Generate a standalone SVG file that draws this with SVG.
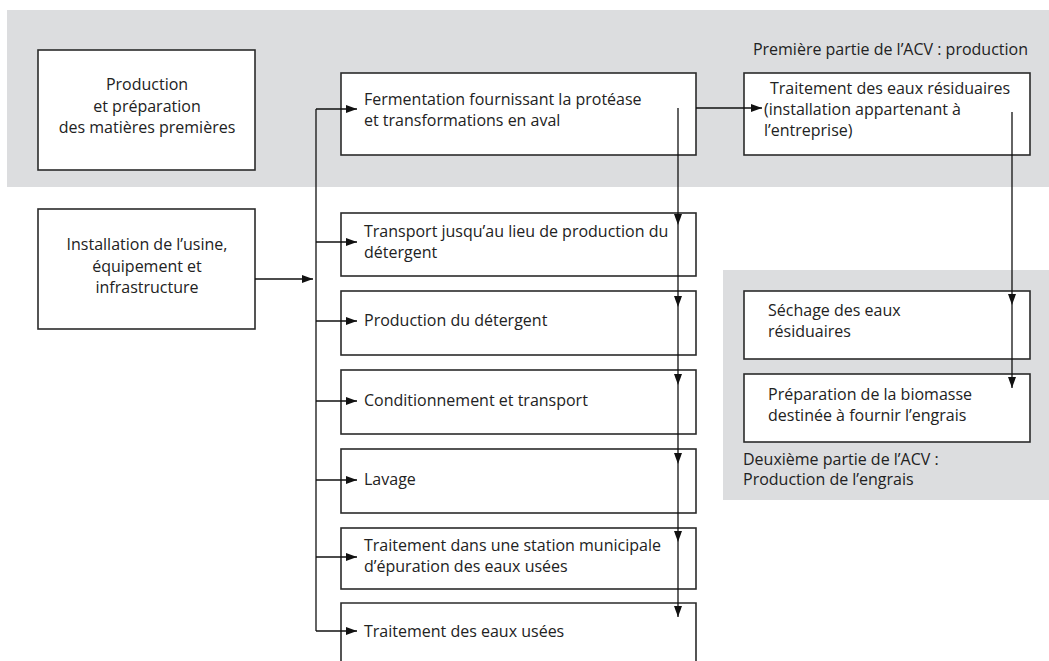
<svg xmlns="http://www.w3.org/2000/svg" width="1049" height="661" viewBox="0 0 1049 661">
  <style>
    .zone { fill: #dcdddf; }
    .box { fill: #ffffff; stroke: #2b2b2b; stroke-width: 1.6; }
    .lbl { font-family: "Open Sans", "Liberation Sans", sans-serif; font-size: 16px; fill: #222; }
    .mid { text-anchor: middle; }
    .wire { stroke: #111; stroke-width: 1.3; fill: none; }
    .arr { marker-end: url(#head); }
  </style>
  <defs>
    <marker id="head" markerUnits="userSpaceOnUse" markerWidth="11" markerHeight="8" refX="11" refY="4" orient="auto">
      <path d="M0,0 L11,4 L0,8 z" fill="#111"/>
    </marker>
  </defs>

  <!-- background zones -->
  <rect class="zone" x="7" y="10" width="1042" height="177"/>
  <rect class="zone" x="723" y="270" width="326" height="230"/>

  <text class="lbl" x="1028" y="55" text-anchor="end">Première partie de l’ACV : production</text>
  <text class="lbl" x="743" y="465">Deuxième partie de l’ACV :</text>
  <text class="lbl" x="743" y="485">Production de l’engrais</text>

  <!-- nodes -->
  <g id="matieres">
    <rect class="box" x="38" y="50" width="217" height="120"/>
    <text class="lbl mid" x="147" y="90">Production</text>
    <text class="lbl mid" x="147" y="112">et préparation</text>
    <text class="lbl mid" x="147" y="133">des matières premières</text>
  </g>
  <g id="usine">
    <rect class="box" x="38" y="209" width="217" height="120"/>
    <text class="lbl mid" x="147" y="250">Installation de l’usine,</text>
    <text class="lbl mid" x="147" y="272">équipement et</text>
    <text class="lbl mid" x="147" y="293">infrastructure</text>
  </g>
  <g id="fermentation">
    <rect class="box" x="341" y="73" width="355" height="82"/>
    <text class="lbl" x="364" y="105">Fermentation fournissant la protéase</text>
    <text class="lbl" x="364" y="126">et transformations en aval</text>
  </g>
  <g id="transport">
    <rect class="box" x="341" y="213" width="355" height="63"/>
    <text class="lbl" x="364" y="237">Transport jusqu’au lieu de production du</text>
    <text class="lbl" x="364" y="258">détergent</text>
  </g>
  <g id="production-detergent">
    <rect class="box" x="341" y="291" width="355" height="64"/>
    <text class="lbl" x="364" y="326">Production du détergent</text>
  </g>
  <g id="conditionnement">
    <rect class="box" x="341" y="370" width="355" height="64"/>
    <text class="lbl" x="364" y="406">Conditionnement et transport</text>
  </g>
  <g id="lavage">
    <rect class="box" x="341" y="449" width="355" height="64"/>
    <text class="lbl" x="364" y="485">Lavage</text>
  </g>
  <g id="station-municipale">
    <rect class="box" x="341" y="528" width="355" height="61"/>
    <text class="lbl" x="364" y="551">Traitement dans une station municipale</text>
    <text class="lbl" x="364" y="572">d’épuration des eaux usées</text>
  </g>
  <g id="eaux-usees">
    <path class="box" d="M341,664 V603 H696 V664"/>
    <text class="lbl" x="364" y="637">Traitement des eaux usées</text>
  </g>
  <g id="eaux-residuaires">
    <rect class="box" x="744" y="73" width="286" height="82"/>
    <text class="lbl" x="770" y="94">Traitement des eaux résiduaires</text>
    <text class="lbl" x="764" y="115">(installation appartenant à</text>
    <text class="lbl" x="764" y="136">l’entreprise)</text>
  </g>
  <g id="sechage">
    <rect class="box" x="744" y="291" width="286" height="68"/>
    <text class="lbl" x="768" y="316">Séchage des eaux</text>
    <text class="lbl" x="768" y="337">résiduaires</text>
  </g>
  <g id="biomasse">
    <rect class="box" x="744" y="374" width="286" height="68"/>
    <text class="lbl" x="768" y="400">Préparation de la biomasse</text>
    <text class="lbl" x="768" y="421">destinée à fournir l’engrais</text>
  </g>

  <!-- connectors -->
  <g id="connectors">
    <!-- distribution bus on the left -->
    <line class="wire" x1="316" y1="109" x2="316" y2="631"/>
    <line class="wire arr" x1="316" y1="109" x2="357" y2="109"/>
    <line class="wire arr" x1="316" y1="242" x2="357" y2="242"/>
    <line class="wire arr" x1="316" y1="321" x2="357" y2="321"/>
    <line class="wire arr" x1="316" y1="401" x2="357" y2="401"/>
    <line class="wire arr" x1="316" y1="480" x2="357" y2="480"/>
    <line class="wire arr" x1="316" y1="557" x2="357" y2="557"/>
    <line class="wire arr" x1="316" y1="631" x2="357" y2="631"/>
    <line class="wire arr" x1="255" y1="279" x2="313" y2="279"/>

    <!-- flow down the process chain -->
    <line class="wire arr" x1="678" y1="108" x2="678" y2="225"/>
    <line class="wire arr" x1="678" y1="225" x2="678" y2="307"/>
    <line class="wire arr" x1="678" y1="307" x2="678" y2="385"/>
    <line class="wire arr" x1="678" y1="385" x2="678" y2="464"/>
    <line class="wire arr" x1="678" y1="464" x2="678" y2="542"/>
    <line class="wire arr" x1="678" y1="542" x2="678" y2="617"/>

    <!-- residual water branch -->
    <line class="wire arr" x1="696" y1="108" x2="762" y2="108"/>
    <line class="wire arr" x1="1012" y1="112" x2="1012" y2="305"/>
    <line class="wire arr" x1="1012" y1="305" x2="1012" y2="388"/>
  </g>
</svg>
